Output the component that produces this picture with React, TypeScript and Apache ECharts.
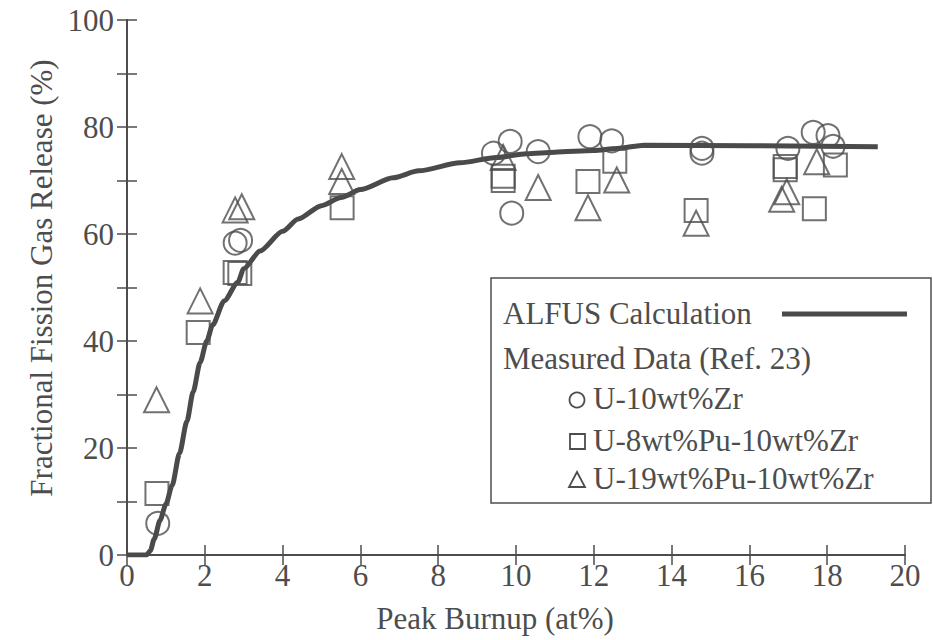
import React, { useEffect, useRef } from "react";
import * as echarts from "echarts";

// ALFUS calculation curve (Peak burnup at%, FGR %)
const curveX = [0, 0.5, 0.6, 0.7, 0.85, 1.0, 1.16, 1.35, 1.54, 1.7, 1.88, 2.05, 2.2, 2.5, 2.85, 3.0, 3.42, 4.0, 4.4, 5.0, 5.5, 6.0, 6.84, 7.5, 8.56, 9.5, 10.28, 11.0, 12.0, 12.6, 13.3, 19.3];
const curveY = [0, 0, 0.8, 3, 6.5, 9.5, 13, 19, 25, 30.5, 36, 40, 43, 47.5, 51, 53.5, 56.8, 60.5, 62.8, 65.3, 66.8, 68.3, 70.5, 71.8, 73.3, 74.3, 75.0, 75.3, 75.6, 76.0, 76.6, 76.3];

// U-10wt%Zr (circles)
const zrX = [0.79, 2.78, 2.92, 9.42, 9.85, 9.89, 10.57, 11.9, 12.46, 14.78, 14.78, 16.99, 17.64, 18.02, 18.15];
const zrY = [5.9, 58.3, 58.8, 75.1, 77.3, 63.9, 75.4, 78.2, 77.4, 76.0, 75.1, 76.0, 79.0, 78.4, 76.4];

// U-8wt%Pu-10wt%Zr (squares)
const pu8X = [0.77, 1.83, 2.78, 2.9, 5.53, 9.67, 9.67, 11.85, 12.54, 14.63, 16.92, 16.92, 17.67, 18.21];
const pu8Y = [11.5, 41.6, 52.8, 52.6, 64.9, 70.8, 70.0, 69.8, 73.6, 64.4, 72.6, 72.0, 64.7, 72.9];

// U-19wt%Pu-10wt%Zr (triangles)
const pu19X = [0.76, 1.88, 2.78, 2.95, 5.52, 5.52, 9.67, 10.57, 11.85, 12.59, 14.63, 16.83, 16.96, 17.73];
const pu19Y = [29.0, 47.5, 64.5, 65.1, 72.6, 69.8, 74.3, 68.7, 64.9, 70.1, 62.0, 66.5, 67.9, 73.5];

const xTicks = [0, 2, 4, 6, 8, 10, 12, 14, 16, 18, 20];
const yTicks = [0, 20, 40, 60, 80, 100];

const legendLabels = [
  "ALFUS Calculation",
  "Measured Data (Ref. 23)",
  "U-10wt%Zr",
  "U-8wt%Pu-10wt%Zr",
  "U-19wt%Pu-10wt%Zr",
];

const INK = "#4d4d4d";
const FONT = "Liberation Serif";

const zip = (xs: number[], ys: number[]) => xs.map((x, i) => [x, ys[i]]);

export default function App() {
  const ref = useRef<HTMLDivElement>(null);
  useEffect(() => {
    if (!ref.current) return;
    const chart = echarts.init(ref.current, null, { renderer: "svg" });
    const tickStyle = { color: INK, width: 1.5 };
    const axisLine = { show: true, lineStyle: { color: INK, width: 2 } };
    const labelStyle = { fontFamily: FONT, fontSize: 31, color: INK };
    const markerStyle = { color: "rgba(0,0,0,0)", borderColor: INK, borderWidth: 2 };
    const lx = 491, ly = 278;
    const lf = `31px ${FONT}`;
    chart.setOption({
      animation: false,
      backgroundColor: "#ffffff",
      grid: { left: 127, right: 28, top: 20, bottom: 85 },
      xAxis: [
        {
          type: "value", position: "bottom", min: xTicks[0], max: xTicks[xTicks.length - 1], interval: 2,
          axisLine, axisTick: { inside: true, length: 10, lineStyle: tickStyle },
          axisLabel: { ...labelStyle, margin: 5 },
          splitLine: { show: false },
          name: "Peak Burnup (at%)", nameLocation: "middle", nameGap: 48,
          nameTextStyle: { ...labelStyle, fontSize: 31, padding: [0, 42, 0, 0] },
        },
        {
          type: "value", position: "top", min: 0, max: 20, interval: 2,
          axisLine, axisTick: { inside: true, length: 10, lineStyle: tickStyle },
          axisLabel: { show: false }, splitLine: { show: false },
        },
      ],
      yAxis: [
        {
          type: "value", position: "left", min: yTicks[0], max: yTicks[yTicks.length - 1], interval: 20,
          axisLine, axisTick: { inside: true, length: 10, lineStyle: tickStyle },
          minorTick: { show: true, splitNumber: 2, length: 10, lineStyle: tickStyle },
          axisLabel: { ...labelStyle, margin: 13 },
          splitLine: { show: false }, minorSplitLine: { show: false },
          name: "Fractional Fission Gas Release (%)", nameLocation: "middle", nameGap: 68,
          nameTextStyle: { ...labelStyle, fontSize: 31, padding: [0, 0, 0, 19] },
        },
        {
          type: "value", position: "right", min: 0, max: 100, interval: 20,
          axisLine, axisTick: { inside: true, length: 10, lineStyle: tickStyle },
          minorTick: { show: true, splitNumber: 2, length: 10, lineStyle: tickStyle },
          axisLabel: { show: false }, splitLine: { show: false }, minorSplitLine: { show: false },
        },
      ],
      series: [
        {
          type: "line", data: zip(curveX, curveY), showSymbol: false, smooth: 0.25, smoothMonotone: "x",
          lineStyle: { color: "#4a4a4a", width: 5 }, z: 3,
        },
        { type: "scatter", data: zip(zrX, zrY), symbol: "circle", symbolSize: 23, itemStyle: markerStyle, z: 4 },
        { type: "scatter", data: zip(pu8X, pu8Y), symbol: "rect", symbolSize: 23, itemStyle: markerStyle, z: 4 },
        { type: "scatter", data: zip(pu19X, pu19Y), symbol: "triangle", symbolSize: 25, itemStyle: markerStyle, z: 4 },
      ],
      graphic: [
        {
          type: "rect", z: 100, shape: { x: lx, y: ly, width: 440, height: 225 },
          style: { fill: "#ffffff", stroke: INK, lineWidth: 1.5 },
        },
        {
          type: "text", z: 101, x: 503, y: 313,
          style: { text: legendLabels[0], font: lf, fill: INK, textVerticalAlign: "middle" },
        },
        {
          type: "line", z: 101, shape: { x1: 782, y1: 314, x2: 907, y2: 314 },
          style: { stroke: "#4a4a4a", lineWidth: 5 },
        },
        {
          type: "text", z: 101, x: 503, y: 358,
          style: { text: legendLabels[1], font: lf, fill: INK, textVerticalAlign: "middle" },
        },
        {
          type: "circle", z: 101, shape: { cx: 577, cy: 400, r: 7.5 },
          style: { fill: "none", stroke: INK, lineWidth: 1.8 },
        },
        {
          type: "text", z: 101, x: 593, y: 398,
          style: { text: legendLabels[2], font: lf, fill: INK, textVerticalAlign: "middle" },
        },
        {
          type: "rect", z: 101, shape: { x: 570, y: 434, width: 15, height: 15 },
          style: { fill: "none", stroke: INK, lineWidth: 1.8 },
        },
        {
          type: "text", z: 101, x: 593, y: 440,
          style: { text: legendLabels[3], font: lf, fill: INK, textVerticalAlign: "middle" },
        },
        {
          type: "polygon", z: 101, shape: { points: [[577, 472], [569, 487], [585, 487]] },
          style: { fill: "none", stroke: INK, lineWidth: 1.8 },
        },
        {
          type: "text", z: 101, x: 593, y: 478,
          style: { text: legendLabels[4], font: lf, fill: INK, textVerticalAlign: "middle" },
        },
      ],
    });
    return () => chart.dispose();
  }, []);
  return (
    <div
      ref={ref}
      style={{ position: "fixed", left: 0, top: 0, width: 933, height: 640 }}
    />
  );
}
